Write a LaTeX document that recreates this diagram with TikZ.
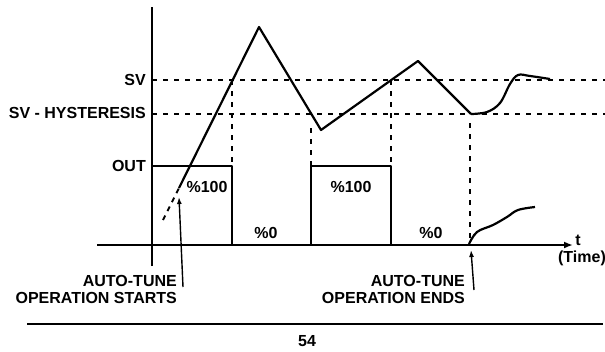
\documentclass[tikz,border=0pt]{standalone}
\usepackage{fontspec}
\setmainfont{Liberation Sans}
\usetikzlibrary{arrows.meta}
\begin{document}
\begin{tikzpicture}[x=1pt,y=-1pt,
  lbl/.style={font=\fontsize{16}{17}\selectfont\bfseries, inner sep=0pt},
  axisline/.style={line width=2.2pt},
  curve/.style={line width=2.2pt, line join=round},
  guide/.style={line width=2.2pt, dash pattern=on 5pt off 6pt},
  pointer/.style={line width=1.4pt, -{Latex[length=7pt,width=5pt]}}]
\useasboundingbox (0,0) rectangle (605,351);
% key coordinates
\coordinate (o) at (152,245);
\coordinate (ytop) at (152,7);
\coordinate (ybot) at (152,266);
\coordinate (xl) at (97,245);
\coordinate (xr) at (573,245);
\coordinate (sv0) at (152,80);
\coordinate (sv1) at (605,80);
\coordinate (hy0) at (152,114);
\coordinate (hy1) at (605,114);
% axes
\draw[axisline] (ybot) -- (ytop);
\draw[axisline,-{Latex[length=9pt,width=7pt]}] (xl) -- (xr);
% reference lines
\draw[guide] (sv0) -- (sv1);
\draw[guide] (hy0) -- (hy1);
% output pulses
\draw[curve] (o) -- (152,166) -- (232,166) -- (232,245);
\draw[curve] (311,245) -- (311,166) -- (391,166) -- (391,245);
% vertical guides
\draw[guide] (232,80) -- (232,166);
\draw[guide] (311,128) -- (311,166);
\draw[guide] (391,80) -- (391,166);
\draw[guide] (470,123) -- (470,245);
% process value
\coordinate (st) at (179,188);
\draw[guide, line width=2pt, dash pattern=on 5pt off 5pt] (163,220) -- (st);
\draw[curve] (st) -- (259,27) -- (321,130) -- (418,61) -- (471,114);
\draw[curve] plot[smooth, tension=0.6] coordinates {(471,114) (487,112) (500,103) (510,84) (518,75) (530,76) (550,79)};
\draw[curve] plot[smooth, tension=0.6] coordinates {(469,244) (477,232) (493,225) (507,217) (518,210) (535,207)};
% labels
\node[lbl, anchor=east] (lsv) at (146,80) {SV};
\node[lbl, anchor=east] (lhy) at (146,113) {SV - HYSTERESIS};
\node[lbl, anchor=east] (lout) at (146,166) {OUT};
\node[lbl] (p1) at (207,187) {\%100};
\node[lbl] (p2) at (351,187) {\%100};
\node[lbl] (z1) at (266,233) {\%0};
\node[lbl] (z2) at (431,233) {\%0};
\node[lbl] (lt) at (578,240) {t};
\node[lbl] (ltime) at (582,258) {(Time)};
\node[lbl, anchor=east, align=right] (start) at (177,289.5) {AUTO-TUNE\\OPERATION STARTS};
\node[lbl, anchor=east, align=right] (ends) at (465,289.5) {AUTO-TUNE\\OPERATION ENDS};
% pointers
\coordinate (sa) at (183,287);
\coordinate (sb) at (179,197);
\coordinate (ea) at (474,290);
\coordinate (eb) at (471,250);
\draw[pointer] (sa) -- (sb);
\draw[pointer] (ea) -- (eb);
% footer
\draw[line width=2pt] (27,324) -- (603,324);
\node[lbl] (pg) at (307,341) {54};
\end{tikzpicture}
\end{document}
